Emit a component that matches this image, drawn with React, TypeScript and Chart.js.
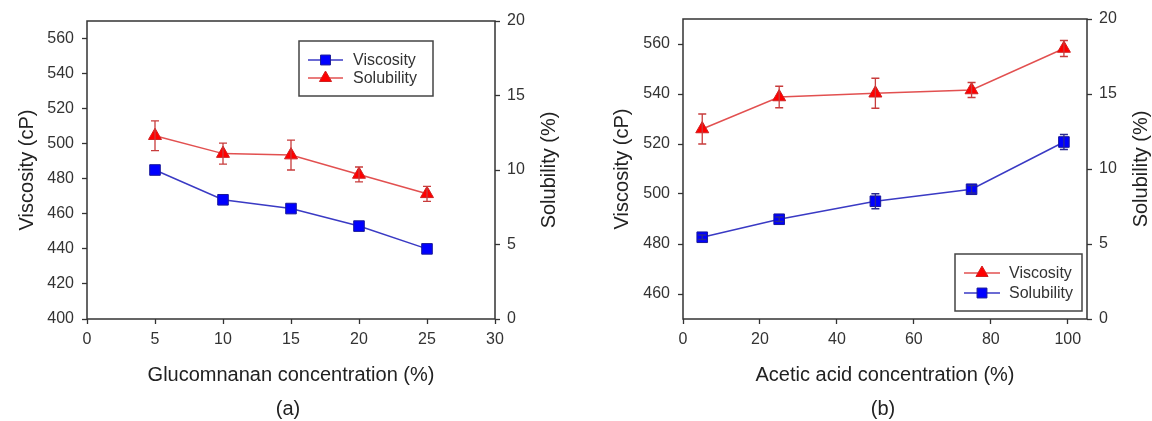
import React, { useEffect, useRef } from 'react';
import { Chart, registerables } from 'chart.js';

Chart.register(...registerables);

// ---------- data ----------
const glucoX = [5, 10, 15, 20, 25];
const glucoViscosity = [485, 468, 463, 453, 440];
const glucoSolubility = [12.3, 11.1, 11.0, 9.7, 8.4];
const glucoSolubilityErr = [1.0, 0.7, 1.0, 0.5, 0.5];

const aceticX = [5, 25, 50, 75, 99];
const aceticViscosity = [526, 538.8, 540.3, 541.6, 558.2];
const aceticViscosityErr = [6, 4.3, 6, 3, 3.2];
const aceticSolubility = [5.45, 6.65, 7.85, 8.65, 11.8];
const aceticSolubilityErr = [0.15, 0.15, 0.5, 0.25, 0.5];

const glucoXTicks = [0, 5, 10, 15, 20, 25, 30];
const glucoYTicks = [400, 420, 440, 460, 480, 500, 520, 540, 560];
const aceticXTicks = [0, 20, 40, 60, 80, 100];
const aceticYTicks = [460, 480, 500, 520, 540, 560];
const solubilityTicks = [0, 5, 10, 15, 20];

// ---------- styles ----------
const FONT = '"Liberation Sans", Arial, Helvetica, sans-serif';
const AXIS = '#333333';
const TICK_TEXT = '#333333';
const TITLE_TEXT = '#222222';
const RED_LINE = '#e25050';
const RED_FILL = '#ff0000';
const RED_ERR = '#c83c3c';
const BLUE_LINE = '#3a3ac4';
const BLUE_FILL = '#0000ff';
const BLUE_ERR = '#2a2a90';

type LegendItem = { label: string; line: string; fill: string; style: 'rect' | 'triangle' };
type PanelCfg = {
  xTicks: number[];
  xMin: number;
  xMax: number;
  yTicks: number[];
  yMin: number;
  yMax: number;
  xTitle: string;
  panelLabel: string;
  panelLabelX: number;
  area: { left: number; right: number; top: number; bottom: number };
  leftTitlePad: number;
  rightTitleX: number;
  datasets: any[];
  errs: (number[] | null)[];
  errColors: string[];
  legend: { box: [number, number, number, number]; rows: number[]; lineX: [number, number]; textX: number; items: LegendItem[] };
};

const W = 576;
const H = 421;

function drawMarker(ctx: CanvasRenderingContext2D, style: string, x: number, y: number, r: number, fill: string, stroke: string) {
  ctx.save();
  ctx.fillStyle = fill;
  ctx.strokeStyle = stroke;
  ctx.lineWidth = 1;
  ctx.beginPath();
  if (style === 'rect') {
    const s = Math.SQRT1_2 * r;
    ctx.rect(x - s, y - s, 2 * s, 2 * s);
  } else {
    let rad = 0;
    ctx.moveTo(x + Math.sin(rad) * r, y - Math.cos(rad) * r);
    rad += (2 * Math.PI) / 3;
    ctx.lineTo(x + Math.sin(rad) * r, y - Math.cos(rad) * r);
    rad += (2 * Math.PI) / 3;
    ctx.lineTo(x + Math.sin(rad) * r, y - Math.cos(rad) * r);
    ctx.closePath();
  }
  ctx.fill();
  ctx.stroke();
  ctx.restore();
}

function makeChart(canvas: HTMLCanvasElement, cfg: PanelCfg) {
  const setTicks = (vals: number[]) => (scale: any) => {
    scale.ticks = vals.map((v) => ({ value: v }));
  };

  const framePlugin = {
    id: 'frame',
    beforeDatasetsDraw(chart: any) {
      const { ctx, chartArea: a } = chart;
      ctx.save();
      ctx.strokeStyle = AXIS;
      ctx.lineWidth = 1.5;
      ctx.strokeRect(a.left, a.top, a.right - a.left, a.bottom - a.top);
      ctx.restore();
    },
  };

  const errPlugin = {
    id: 'errbars',
    afterDatasetsDraw(chart: any) {
      const ctx = chart.ctx;
      chart.data.datasets.forEach((ds: any, i: number) => {
        const errs = cfg.errs[i];
        if (!errs) return;
        const meta = chart.getDatasetMeta(i);
        const ys = chart.scales[ds.yAxisID];
        ctx.save();
        ctx.strokeStyle = cfg.errColors[i];
        ctx.lineWidth = 1.3;
        meta.data.forEach((pt: any, j: number) => {
          const v = ds.data[j].y;
          const e = errs[j];
          const yt = ys.getPixelForValue(v + e);
          const yb = ys.getPixelForValue(v - e);
          const x = pt.x;
          ctx.beginPath();
          ctx.moveTo(x, yt);
          ctx.lineTo(x, yb);
          ctx.moveTo(x - 4, yt);
          ctx.lineTo(x + 4, yt);
          ctx.moveTo(x - 4, yb);
          ctx.lineTo(x + 4, yb);
          ctx.stroke();
        });
        ctx.restore();
      });
    },
  };

  const legendPlugin = {
    id: 'boxlegend',
    afterDraw(chart: any) {
      const ctx = chart.ctx;
      const a = chart.chartArea;
      const L = cfg.legend;
      ctx.save();
      ctx.fillStyle = '#ffffff';
      ctx.fillRect(L.box[0], L.box[1], L.box[2], L.box[3]);
      ctx.strokeStyle = '#444444';
      ctx.lineWidth = 1.5;
      ctx.strokeRect(L.box[0], L.box[1], L.box[2], L.box[3]);
      L.items.forEach((it, k) => {
        const y = L.rows[k];
        ctx.strokeStyle = it.line;
        ctx.lineWidth = 1.5;
        ctx.beginPath();
        ctx.moveTo(L.lineX[0], y);
        ctx.lineTo(L.lineX[1], y);
        ctx.stroke();
        drawMarker(ctx, it.style, (L.lineX[0] + L.lineX[1]) / 2, y, 7, it.fill, it.style === 'rect' ? '#1a1a9a' : '#d02020');
        ctx.fillStyle = TICK_TEXT;
        ctx.font = `16px ${FONT}`;
        ctx.textAlign = 'left';
        ctx.textBaseline = 'middle';
        ctx.fillText(it.label, L.textX, y + 1);
      });
      // right axis title (reads bottom to top, like the left one)
      ctx.save();
      ctx.translate(cfg.rightTitleX, (a.top + a.bottom) / 2);
      ctx.rotate(-Math.PI / 2);
      ctx.fillStyle = TITLE_TEXT;
      ctx.font = `20px ${FONT}`;
      ctx.textAlign = 'center';
      ctx.textBaseline = 'middle';
      ctx.fillText('Solubility (%)', 0, 0);
      ctx.restore();
      // panel label
      ctx.fillStyle = TITLE_TEXT;
      ctx.font = `20px ${FONT}`;
      ctx.textAlign = 'center';
      ctx.textBaseline = 'middle';
      ctx.fillText(cfg.panelLabel, cfg.panelLabelX, 409);
      ctx.restore();
    },
  };

  const tickFont = { family: FONT, size: 16 };
  const titleFont = { family: FONT, size: 20 };
  const grid = {
    display: true,
    drawOnChartArea: false,
    drawTicks: true,
    tickLength: 5,
    tickColor: AXIS,
    tickWidth: 1.3,
  };

  return new Chart(canvas, {
    type: 'line',
    data: { datasets: cfg.datasets },
    options: {
      animation: false,
      responsive: false,
      events: [],
      layout: { padding: { top: cfg.area.top, left: 0, right: 0, bottom: 0 } },
      plugins: { legend: { display: false }, tooltip: { enabled: false } },
      scales: {
        x: {
          type: 'linear',
          position: 'bottom',
          min: cfg.xMin,
          max: cfg.xMax,
          afterBuildTicks: setTicks(cfg.xTicks),
          afterFit: (s: any) => {
            s.height = H - cfg.area.bottom;
          },
          grid,
          border: { display: false },
          ticks: { font: tickFont, color: TICK_TEXT, padding: 6, maxRotation: 0, autoSkip: false },
          title: { display: true, text: cfg.xTitle, font: titleFont, color: TITLE_TEXT, padding: { top: 0, bottom: 34 } },
        },
        y: {
          type: 'linear',
          position: 'left',
          min: cfg.yMin,
          max: cfg.yMax,
          afterBuildTicks: setTicks(cfg.yTicks),
          afterFit: (s: any) => {
            s.width = cfg.area.left;
          },
          grid,
          border: { display: false },
          ticks: { font: tickFont, color: TICK_TEXT, padding: 8, autoSkip: false },
          title: { display: true, text: 'Viscosity (cP)', font: titleFont, color: TITLE_TEXT, padding: { top: cfg.leftTitlePad, bottom: 0 } },
        },
        y1: {
          type: 'linear',
          position: 'right',
          min: 0,
          max: 20,
          afterBuildTicks: setTicks(solubilityTicks),
          afterFit: (s: any) => {
            s.width = W - cfg.area.right;
          },
          grid,
          border: { display: false },
          ticks: { font: tickFont, color: TICK_TEXT, padding: 7, autoSkip: false },
          title: { display: false },
        },
      },
    } as any,
    plugins: [framePlugin, errPlugin, legendPlugin],
  });
}

const toPts = (xs: number[], ys: number[]) => xs.map((x, i) => ({ x, y: ys[i] }));

const blueStyle = {
  borderColor: BLUE_LINE,
  borderWidth: 1.5,
  pointStyle: 'rect',
  pointRadius: 7.5,
  pointBackgroundColor: BLUE_FILL,
  pointBorderColor: '#1a1a9a',
  pointBorderWidth: 1,
  tension: 0,
};
const redStyle = {
  borderColor: RED_LINE,
  borderWidth: 1.5,
  pointStyle: 'triangle',
  pointRadius: 7.5,
  pointBackgroundColor: RED_FILL,
  pointBorderColor: '#d02020',
  pointBorderWidth: 1,
  tension: 0,
};

const panelA: PanelCfg = {
  xTicks: glucoXTicks,
  xMin: 0,
  xMax: 30,
  yTicks: glucoYTicks,
  yMin: 400,
  yMax: 570,
  xTitle: 'Glucomnanan concentration (%)',
  panelLabel: '(a)',
  panelLabelX: 288,
  area: { left: 87, right: 495, top: 21, bottom: 319 },
  leftTitlePad: 15,
  rightTitleX: 549,
  datasets: [
    { label: 'Viscosity', data: toPts(glucoX, glucoViscosity), yAxisID: 'y', ...blueStyle },
    { label: 'Solubility', data: toPts(glucoX, glucoSolubility), yAxisID: 'y1', ...redStyle },
  ],
  errs: [null, glucoSolubilityErr],
  errColors: [BLUE_ERR, RED_ERR],
  legend: {
    box: [299, 41, 134, 55],
    rows: [60, 78],
    lineX: [308, 343],
    textX: 353,
    items: [
      { label: 'Viscosity', line: BLUE_LINE, fill: BLUE_FILL, style: 'rect' },
      { label: 'Solubility', line: RED_LINE, fill: RED_FILL, style: 'triangle' },
    ],
  },
};

const panelB: PanelCfg = {
  xTicks: aceticXTicks,
  xMin: 0,
  xMax: 105,
  yTicks: aceticYTicks,
  yMin: 450,
  yMax: 570,
  xTitle: 'Acetic acid concentration (%)',
  panelLabel: '(b)',
  panelLabelX: 307,
  area: { left: 107, right: 511, top: 19, bottom: 319 },
  leftTitlePad: 34,
  rightTitleX: 565,
  datasets: [
    { label: 'Viscosity', data: toPts(aceticX, aceticViscosity), yAxisID: 'y', ...redStyle },
    { label: 'Solubility', data: toPts(aceticX, aceticSolubility), yAxisID: 'y1', ...blueStyle },
  ],
  errs: [aceticViscosityErr, aceticSolubilityErr],
  errColors: [RED_ERR, BLUE_ERR],
  legend: {
    box: [379, 254, 127, 57],
    rows: [273, 293],
    lineX: [388, 424],
    textX: 433,
    items: [
      { label: 'Viscosity', line: RED_LINE, fill: RED_FILL, style: 'triangle' },
      { label: 'Solubility', line: BLUE_LINE, fill: BLUE_FILL, style: 'rect' },
    ],
  },
};

function Panel({ cfg }: { cfg: PanelCfg }) {
  const ref = useRef<HTMLCanvasElement | null>(null);
  useEffect(() => {
    if (!ref.current) return;
    const chart = makeChart(ref.current, cfg);
    return () => chart.destroy();
  }, [cfg]);
  return <canvas ref={ref} width={W} height={H} style={{ display: 'block', width: W, height: H }} />;
}

export default function App() {
  return (
    <div style={{ position: 'absolute', left: 0, top: 0, width: 1152, height: 421, display: 'flex', background: '#ffffff' }}>
      <Panel cfg={panelA} />
      <Panel cfg={panelB} />
    </div>
  );
}
